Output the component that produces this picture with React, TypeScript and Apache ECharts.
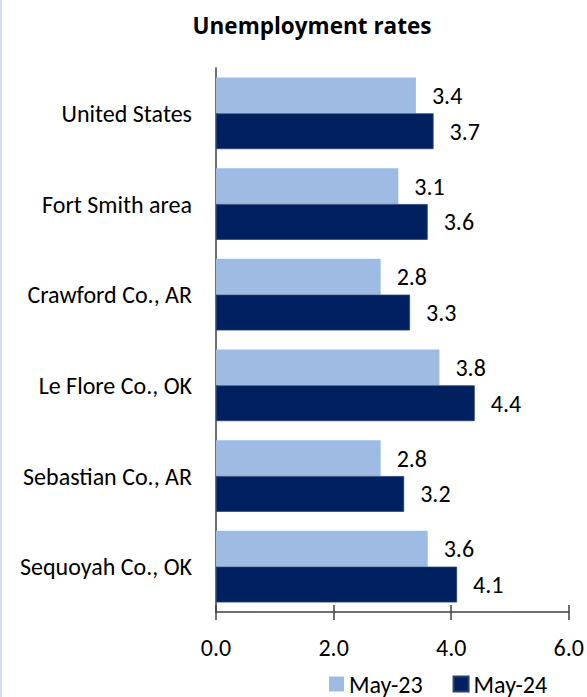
import React, { useEffect, useRef } from "react";
import * as echarts from "echarts";

const categories = [
  "United States",
  "Fort Smith area",
  "Crawford Co., AR",
  "Le Flore Co., OK",
  "Sebastian Co., AR",
  "Sequoyah Co., OK",
];
const may23 = [3.4, 3.1, 2.8, 3.8, 2.8, 3.6];
const may24 = [3.7, 3.6, 3.3, 4.4, 3.2, 4.1];
const seriesNames = ["May-23", "May-24"];

const FONT = "Carlito, Lato, 'Open Sans', sans-serif";
const FS = 24;

export default function App() {
  const ref = useRef<HTMLDivElement>(null);
  useEffect(() => {
    document.body.style.margin = "0";
    const chart = echarts.init(ref.current!, null, { renderer: "svg" });
    const labelCfg = {
      show: true,
      position: "right" as const,
      distance: 16,
      fontSize: FS,
      color: "#000",
      fontFamily: FONT,
      formatter: (p: any) => Number(p.value).toFixed(1),
    };
    chart.setOption({
      animation: false,
      backgroundColor: "#fff",
      textStyle: { fontFamily: FONT },
      title: {
        text: "Unemployment rates",
        left: 307,
        textAlign: "center",
        top: 9,
        textStyle: { fontSize: 22.5, fontWeight: "bold", color: "#000", fontFamily: "'Open Sans', sans-serif" },
      },
      legend: {
        data: seriesNames,
        top: 666,
        left: 324,
        padding: 5,
        itemWidth: 15,
        itemHeight: 15,
        itemGap: 30,
        icon: "rect",
        textStyle: { fontSize: FS, color: "#000", fontFamily: FONT, lineHeight: 26 },
      },
      grid: { left: 216, right: 17, top: 68, bottom: 85 },
      xAxis: [
        {
          type: "value",
          min: 0,
          max: 6,
          interval: 2,
          axisLine: { show: true, lineStyle: { color: "#404040", width: 1.5 } },
          axisTick: { show: true, length: 8, lineStyle: { color: "#404040", width: 1.5 } },
          splitLine: { show: false },
          axisLabel: {
            formatter: (v: number) => v.toFixed(1),
            fontSize: FS,
            color: "#000",
            margin: 23,
            fontFamily: FONT,
          },
        },
        {
          type: "value",
          min: 0,
          max: 6,
          interval: 2,
          position: "bottom",
          axisLine: { show: false },
          axisTick: { show: true, inside: true, length: 7, lineStyle: { color: "#404040", width: 1.5 } },
          splitLine: { show: false },
          axisLabel: { show: false },
        },
      ],
      yAxis: {
        type: "category",
        data: categories,
        inverse: true,
        axisLine: { show: true, lineStyle: { color: "#404040", width: 1.5 } },
        axisTick: { show: false },
        axisLabel: { fontSize: FS, color: "#000", margin: 24, fontFamily: FONT },
      },
      series: [
        {
          name: seriesNames[0],
          type: "bar",
          data: may23,
          barGap: "0%",
          barCategoryGap: "21%",
          itemStyle: { color: "#9DBBE3" },
          label: labelCfg,
        },
        {
          name: seriesNames[1],
          type: "bar",
          data: may24,
          barGap: "0%",
          barCategoryGap: "21%",
          itemStyle: { color: "#002060", borderColor: "#2A4170", borderWidth: 0.8 },
          label: labelCfg,
        },
      ],
      graphic: [
        {
          type: "rect",
          left: 0,
          top: 0,
          shape: { width: 2, height: 697 },
          style: { fill: "#D0DCF0" },
        },
      ],
    });
    return () => chart.dispose();
  }, []);
  return <div ref={ref} style={{ width: 587, height: 697 }} />;
}
